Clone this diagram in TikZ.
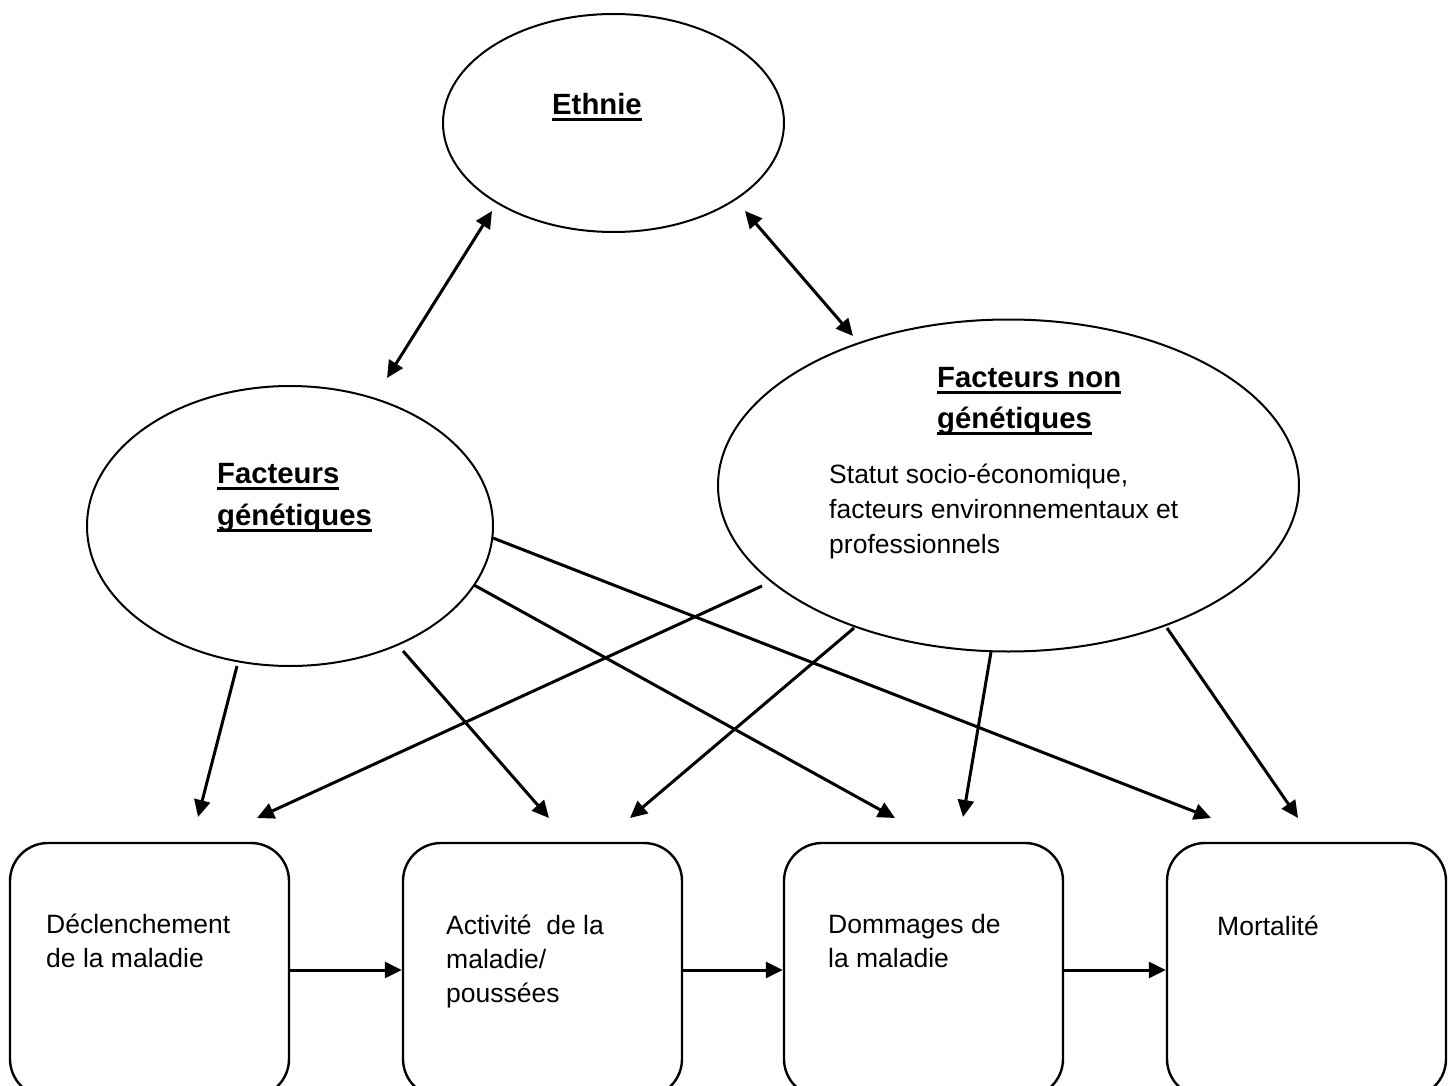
\documentclass[tikz,border=0pt]{standalone}
\usepackage{fontspec}
\setmainfont{Liberation Sans}
\usetikzlibrary{arrows.meta,shapes.geometric}
\newcommand\myul[1]{\setbox0\hbox{#1}\rlap{\rule[-6.5pt]{\wd0}{3pt}}\box0}
\begin{document}
\begin{tikzpicture}[x=1pt,y=-1pt,
  ell/.style={draw, ellipse, line width=2pt, inner sep=0pt},
  boxn/.style={draw, rectangle, rounded corners=38pt, line width=2.4pt, inner sep=0pt,
               minimum width=279pt, minimum height=254pt},
  txt/.style={inner sep=0pt, anchor=base west, font=\fontsize{26.5}{34}\selectfont},
  hd/.style={inner sep=0pt, anchor=base west, font=\fontsize{29.3}{41}\selectfont\bfseries},
  arr/.style={line width=3pt, -{Triangle[length=17pt,width=16pt]}},
  darr/.style={line width=3pt, {Triangle[length=17pt,width=16pt]}-{Triangle[length=17pt,width=16pt]}}]
\useasboundingbox (0,0) rectangle (1454,1086);

% ellipses
\node[ell, minimum width=341pt, minimum height=218pt] (eth) at (613.5,123) {};
\node[ell, minimum width=406pt, minimum height=280pt] (fg) at (290,526) {};
\node[ell, minimum width=581pt, minimum height=332pt] (fng) at (1008.5,485.5) {};

% boxes
\node[boxn] (b1) at (149.5,970) {};
\node[boxn] (b2) at (542.5,970) {};
\node[boxn] (b3) at (923.5,970) {};
\node[boxn] (b4) at (1306.5,970) {};

% texts
\node[hd] (teth) at (552,115) {\myul{Ethnie}};
\node[hd] (tfg1) at (217,483) {\myul{Facteurs}};
\node[hd] (tfg2) at (217,525) {\myul{génétiques}};
\node[hd] (tfn1) at (937,387) {\myul{Facteurs non}};
\node[hd] (tfn2) at (937,428) {\myul{génétiques}};
\node[txt] (tfn3) at (829,483) {Statut socio-économique,};
\node[txt] (tfn4) at (829,518) {facteurs environnementaux et};
\node[txt] (tfn5) at (829,553) {professionnels};

\node[txt] (tb1a) at (46,933) {Déclenchement};
\node[txt] (tb1b) at (46,967) {de la maladie};
\node[txt] (tb2a) at (446,934) {Activité\ \ de la};
\node[txt] (tb2b) at (446,968) {maladie/};
\node[txt] (tb2c) at (446,1002) {poussées};
\node[txt] (tb3a) at (828,933) {Dommages de};
\node[txt] (tb3b) at (828,967) {la maladie};
\node[txt] (tb4a) at (1217,935) {Mortalité};

% connector end points
\coordinate (e-fg) at (492,211);
\coordinate (fg-e) at (387,378);
\coordinate (e-fn) at (745,211);
\coordinate (fn-e) at (853,336);

\coordinate (fg-o1) at (237,666);
\coordinate (fg-o2) at (403,651);
\coordinate (fg-o3) at (474,585);
\coordinate (fg-o4) at (493,538);
\coordinate (fn-o1) at (762,586);
\coordinate (fn-o2) at (854,628);
\coordinate (fn-o3) at (991,652);
\coordinate (fn-o4) at (1167,628);

\coordinate (b1-i1) at (198,817);
\coordinate (b1-i2) at (257,818);
\coordinate (b2-i1) at (549,818);
\coordinate (b2-i2) at (630,818);
\coordinate (b3-i1) at (895,818);
\coordinate (b3-i2) at (963,817);
\coordinate (b4-i1) at (1211,818);
\coordinate (b4-i2) at (1298,818);

% connectors
\draw[darr] (fg-e) -- (e-fg);
\draw[darr] (e-fn) -- (fn-e);

\draw[arr] (fg-o1) -- (b1-i1);
\draw[arr] (fg-o2) -- (b2-i1);
\draw[arr] (fg-o3) -- (b3-i1);
\draw[arr] (fg-o4) -- (b4-i1);
\draw[arr] (fn-o1) -- (b1-i2);
\draw[arr] (fn-o2) -- (b2-i2);
\draw[arr] (fn-o3) -- (b3-i2);
\draw[arr] (fn-o4) -- (b4-i2);

\draw[arr] (b1.east) -- (b2.west);
\draw[arr] (b2.east) -- (b3.west);
\draw[arr] (b3.east) -- (b4.west);
\end{tikzpicture}
\end{document}
